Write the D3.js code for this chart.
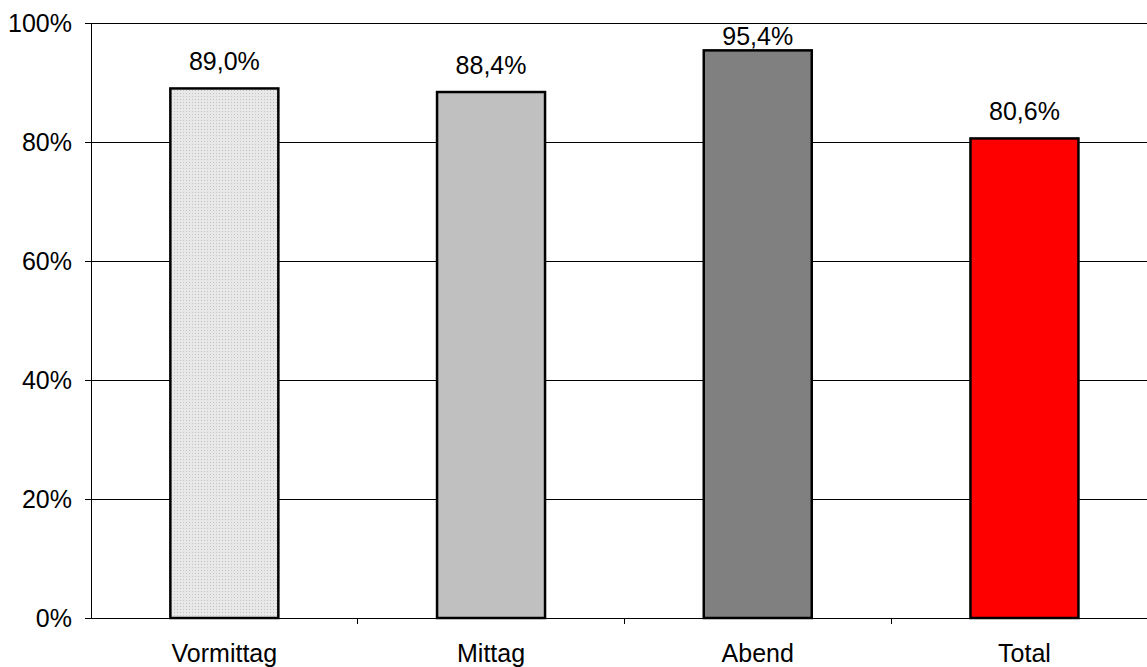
<!DOCTYPE html>
<html><head><meta charset="utf-8">
<script src="https://cdn.jsdelivr.net/npm/d3@7"></script>
<style>body{margin:0;background:#fff}svg{display:block}text{font-family:"Liberation Sans",Arial,sans-serif;fill:#000}</style>
</head><body><svg id="c" width="1147" height="667"></svg>
<script>
const categories = ["Vormittag", "Mittag", "Abend", "Total"];
const values = [89.0, 88.4, 95.4, 80.6];
const valueLabels = ["89,0%", "88,4%", "95,4%", "80,6%"];
const yTicks = [0, 20, 40, 60, 80, 100];
const yTickLabels = ["0%", "20%", "40%", "60%", "80%", "100%"];
const fills = ["url(#dots)", "#c0c0c0", "#808080", "#ff0000"];

const svg = d3.select("#c");
const defs = svg.append("defs");
const pat = defs.append("pattern").attr("id","dots").attr("width",3).attr("height",3).attr("patternUnits","userSpaceOnUse");
pat.append("rect").attr("width",3).attr("height",3).attr("fill","#e8e8e8");
pat.append("rect").attr("x",0).attr("y",0).attr("width",1).attr("height",1).attr("fill","#c4c4c4");

const mLeft = 91, mTop = 23, mBottom = 618, bandW = 266.7;
const x = d3.scaleBand().domain(categories).range([mLeft, mLeft + bandW * categories.length]).padding(0);
const y = d3.scaleLinear().domain([0, 100]).range([mBottom, mTop]);
const fs = 25;
const ff = '"Liberation Sans",Arial,sans-serif';

// gridlines
svg.append("g").selectAll("line").data(yTicks.filter(d => d > 0)).join("line")
  .attr("x1", mLeft).attr("x2", 1147).attr("y1", d => y(d)).attr("y2", d => y(d))
  .attr("stroke", "#000").attr("stroke-width", 1).attr("shape-rendering","crispEdges");

// y axis
const yAxis = d3.axisLeft(y).tickValues(yTicks).tickFormat((d,i) => yTickLabels[i]).tickSize(6).tickPadding(13);
const gy = svg.append("g").attr("transform", `translate(${mLeft},0)`).call(yAxis);
gy.select(".domain").attr("stroke","#000").attr("shape-rendering","crispEdges");
gy.selectAll(".tick line").attr("stroke","#000").attr("shape-rendering","crispEdges");
gy.selectAll(".tick text").attr("font-size", fs).attr("font-family", ff).attr("fill","#000");

// bars
const barW = 108;
svg.append("g").selectAll("rect").data(values).join("rect")
  .attr("x", (d,i) => x(categories[i]) + x.bandwidth()/2 - barW/2)
  .attr("y", d => y(d))
  .attr("width", barW)
  .attr("height", d => mBottom - y(d))
  .attr("fill", (d,i) => fills[i])
  .attr("stroke", "#000").attr("stroke-width", 2.5);

// x axis
const xAxis = d3.axisBottom(x).tickSize(0).tickFormat(d => d);
const gx = svg.append("g").attr("transform", `translate(0,${mBottom})`).call(xAxis);
gx.select(".domain").attr("stroke","#000").attr("shape-rendering","crispEdges");
gx.selectAll(".tick text").attr("font-size", fs).attr("font-family", ff).attr("fill","#000").attr("dy", 0).attr("y", 44);
// separators between categories
svg.append("g").selectAll("line").data(categories.slice(1)).join("line")
  .attr("x1", d => x(d)).attr("x2", d => x(d)).attr("y1", mBottom).attr("y2", mBottom + 6)
  .attr("stroke","#000").attr("shape-rendering","crispEdges");

// value labels
svg.append("g").selectAll("text").data(values).join("text")
  .attr("x", (d,i) => x(categories[i]) + x.bandwidth()/2)
  .attr("y", d => Math.max(y(d) - 18, 45))
  .attr("text-anchor","middle").attr("font-size", fs).attr("font-family", ff)
  .text((d,i) => valueLabels[i]);
</script></body></html>
